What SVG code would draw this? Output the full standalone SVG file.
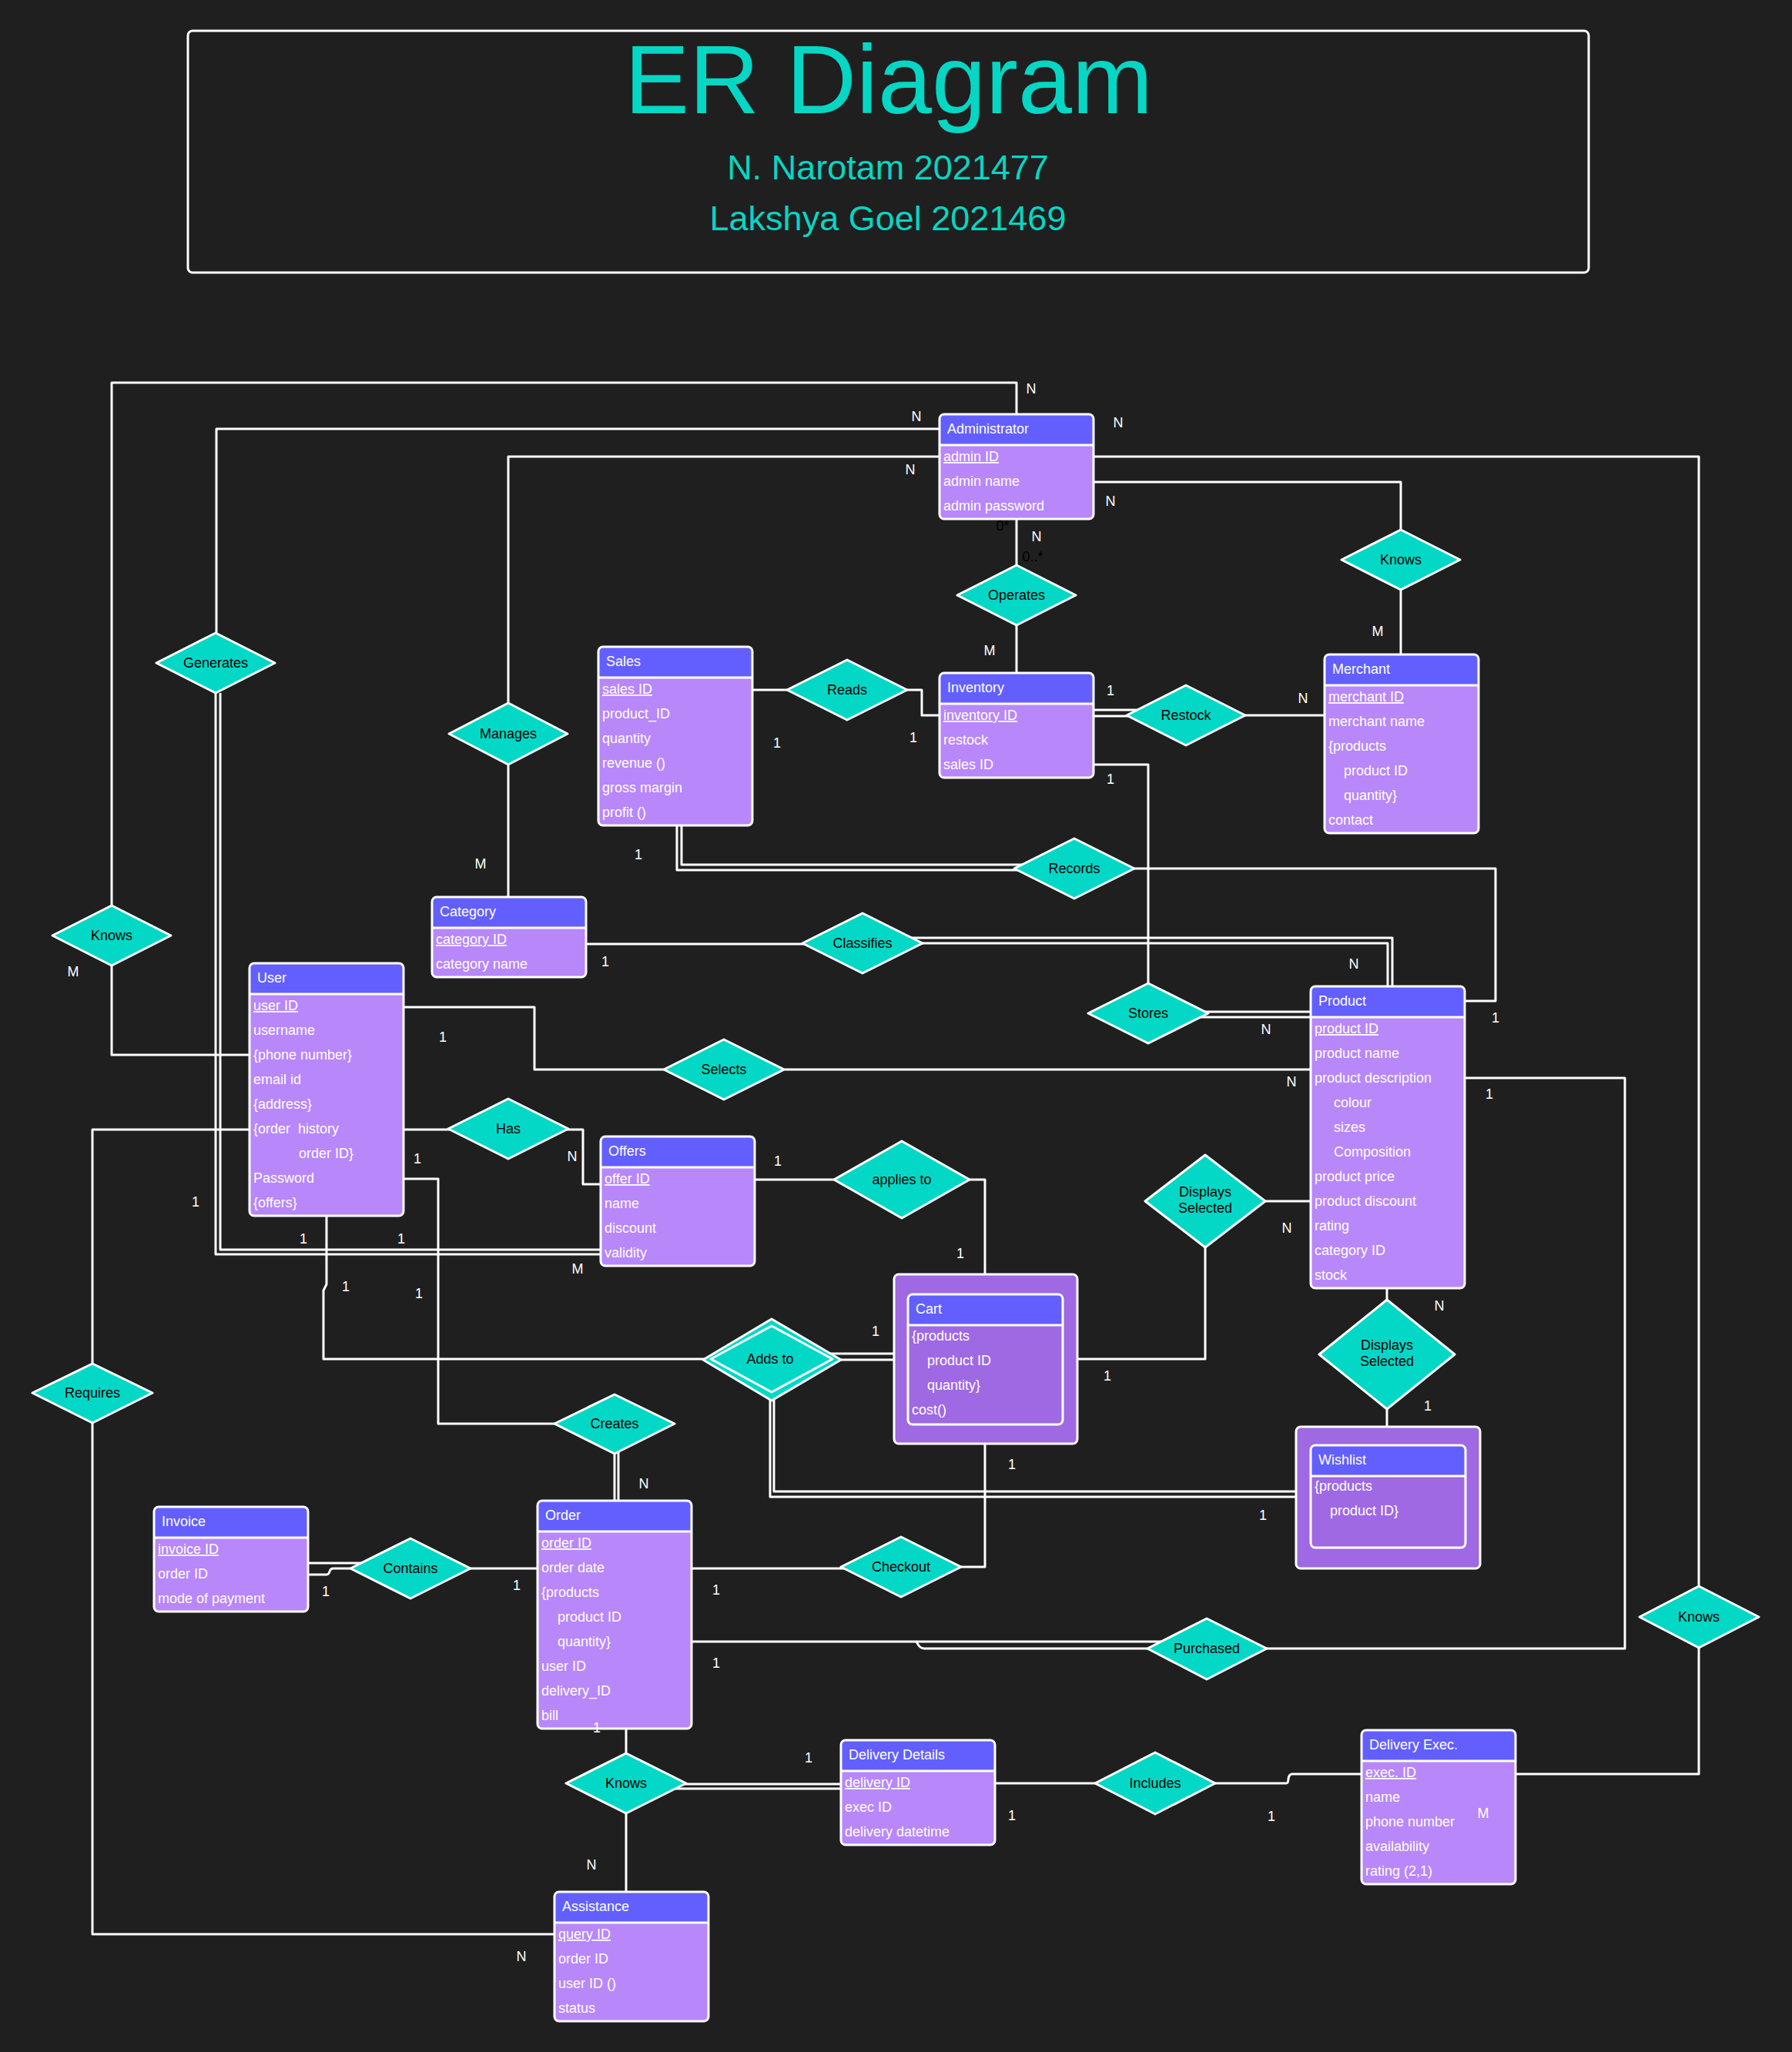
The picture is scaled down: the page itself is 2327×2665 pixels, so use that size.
<svg xmlns="http://www.w3.org/2000/svg" width="2327" height="2665" viewBox="0 0 2327 2665">
<style>
.bg{fill:#1F1F1F}
.body{fill:#B887FA}
.cbody{fill:#9E69E3}
.hdr{fill:#635FFF}
.frame{fill:none;stroke:#fff;stroke-width:3}
.sep{stroke:#fff;stroke-width:3}
.ht,.at{font-family:"Liberation Sans",Arial,sans-serif;font-size:18px;fill:#fff}
.u{text-decoration:underline}
.dia{fill:#03D8C6;stroke:#fff;stroke-width:3;stroke-linejoin:round}
.dt{font-family:"Liberation Sans",Arial,sans-serif;font-size:18px;fill:#000;text-anchor:middle}
.ln{fill:none;stroke:#fff;stroke-width:3;stroke-linejoin:round}
.lb{font-family:"Liberation Sans",Arial,sans-serif;font-size:18px;fill:#fff;text-anchor:middle}
.lbk{font-family:"Liberation Sans",Arial,sans-serif;font-size:18px;fill:#000;text-anchor:middle}
.title{font-family:"Liberation Sans",Arial,sans-serif;fill:#06D6C4;text-anchor:middle}
</style>
<rect class="bg" x="0" y="0" width="2327" height="2665"/>

<g id="title">
<rect x="244" y="40" width="1819" height="314" rx="6" class="frame"/>
<text class="title" x="1154" y="147" font-size="126">ER Diagram</text>
<text class="title" x="1153" y="233" font-size="45">N. Narotam 2021477</text>
<text class="title" x="1153" y="299" font-size="45">Lakshya Goel 2021469</text>
</g>

<g id="connectors">
<path class="ln" d="M1320,538 V497 H145 V1176"/>
<path class="ln" d="M145,1254 V1370 H324"/>
<path class="ln" d="M1220,557 H281 V823"/>
<path class="ln" d="M280,900 V1629 H780"/>
<path class="ln" d="M286,900 V1623 H780"/>
<path class="ln" d="M1220,593 H660 V913"/>
<path class="ln" d="M660,993 V1165"/>
<path class="ln" d="M1420,593 H2206 V2060"/>
<path class="ln" d="M2206,2140 V2304 H1968"/>
<path class="ln" d="M1420,626 H1819 V689"/>
<path class="ln" d="M1819,766 V850"/>
<path class="ln" d="M1320,674 V734"/>
<path class="ln" d="M1320,812 V874"/>
<path class="ln" d="M977,896 H1100"/>
<path class="ln" d="M1100,896 H1197 V929 H1220"/>
<path class="ln" d="M1420,922 H1540"/>
<path class="ln" d="M1420,930 H1540"/>
<path class="ln" d="M1540,929 H1720"/>
<path class="ln" d="M1420,993 H1491 V1316"/>
<path class="ln" d="M1491,1314 H1702"/>
<path class="ln" d="M1491,1321 H1702"/>
<path class="ln" d="M879,1072 V1130 H1395"/>
<path class="ln" d="M885,1072 V1123 H1395"/>
<path class="ln" d="M1395,1128 H1942 V1300 H1902"/>
<path class="ln" d="M760,1226 H1120"/>
<path class="ln" d="M1120,1218 H1808 V1281"/>
<path class="ln" d="M1120,1225 H1802 V1281"/>
<path class="ln" d="M524,1308 H694 V1389 H940"/>
<path class="ln" d="M940,1389 H1702"/>
<path class="ln" d="M524,1467 H660"/>
<path class="ln" d="M660,1467 H757 V1538 H780"/>
<path class="ln" d="M524,1531 H569 V1849 H798"/>
<path class="ln" d="M424,1579 V1668 L420,1676 V1765 H1002"/>
<path class="ln" d="M324,1467 H120 V1809"/>
<path class="ln" d="M120,1809 V2512 H720"/>
<path class="ln" d="M980,1532 H1171"/>
<path class="ln" d="M1171,1532 H1279 V1655"/>
<path class="ln" d="M1002,1758 H1161"/>
<path class="ln" d="M1002,1766 H1161"/>
<path class="ln" d="M1000,1766 V1944 H1683"/>
<path class="ln" d="M1005,1766 V1937 H1683"/>
<path class="ln" d="M1399,1765 H1565 V1560"/>
<path class="ln" d="M1565,1560 H1702"/>
<path class="ln" d="M1801,1673 V1759"/>
<path class="ln" d="M1801,1759 V1853"/>
<path class="ln" d="M1902,1400 H2110 V2141 H1567"/>
<path class="ln" d="M898,2132 H1567"/>
<path class="ln" d="M1190,2132 Q1194,2141 1200,2141 H1567"/>
<path class="ln" d="M898,2037 H1170"/>
<path class="ln" d="M1170,2035 H1279 V1875"/>
<path class="ln" d="M798,1849 V1949"/>
<path class="ln" d="M803,1849 V1949"/>
<path class="ln" d="M533,2037 H698"/>
<path class="ln" d="M400,2030 H533"/>
<path class="ln" d="M400,2045 H424 Q427,2045 428,2041 Q429,2037 433,2037 H533"/>
<path class="ln" d="M813,2245 V2316"/>
<path class="ln" d="M813,2317 H1092"/>
<path class="ln" d="M813,2323 H1092"/>
<path class="ln" d="M813,2316 V2457"/>
<path class="ln" d="M1292,2316 H1500"/>
<path class="ln" d="M1500,2316 H1670 Q1673,2316 1673,2310 Q1674,2304 1678,2304 H1768"/>
</g>

<g id="labels">
<text class="lb" x="1339" y="511">N</text>
<text class="lb" x="1190" y="547">N</text>
<text class="lb" x="1452" y="555">N</text>
<text class="lb" x="1182" y="616">N</text>
<text class="lb" x="1442" y="657">N</text>
<text class="lbk" x="1302" y="689">0*</text>
<text class="lb" x="1346" y="703">N</text>
<text class="lbk" x="1341" y="729">0..*</text>
<text class="lb" x="1285" y="851">M</text>
<text class="lb" x="1789" y="826">M</text>
<text class="lb" x="1442" y="903">1</text>
<text class="lb" x="1692" y="913">N</text>
<text class="lb" x="1442" y="1018">1</text>
<text class="lb" x="1009" y="971">1</text>
<text class="lb" x="1186" y="964">1</text>
<text class="lb" x="829" y="1116">1</text>
<text class="lb" x="624" y="1128">M</text>
<text class="lb" x="786" y="1255">1</text>
<text class="lb" x="1758" y="1258">N</text>
<text class="lb" x="1942" y="1328">1</text>
<text class="lb" x="1644" y="1343">N</text>
<text class="lb" x="95" y="1268">M</text>
<text class="lb" x="575" y="1353">1</text>
<text class="lb" x="1677" y="1411">N</text>
<text class="lb" x="1934" y="1427">1</text>
<text class="lb" x="542" y="1511">1</text>
<text class="lb" x="743" y="1508">N</text>
<text class="lb" x="1010" y="1514">1</text>
<text class="lb" x="254" y="1567">1</text>
<text class="lb" x="1671" y="1601">N</text>
<text class="lb" x="394" y="1615">1</text>
<text class="lb" x="521" y="1615">1</text>
<text class="lb" x="1247" y="1634">1</text>
<text class="lb" x="750" y="1654">M</text>
<text class="lb" x="449" y="1677">1</text>
<text class="lb" x="544" y="1686">1</text>
<text class="lb" x="1869" y="1702">N</text>
<text class="lb" x="1137" y="1735">1</text>
<text class="lb" x="1438" y="1793">1</text>
<text class="lb" x="1854" y="1832">1</text>
<text class="lb" x="1314" y="1908">1</text>
<text class="lb" x="836" y="1933">N</text>
<text class="lb" x="1640" y="1974">1</text>
<text class="lb" x="423" y="2073">1</text>
<text class="lb" x="671" y="2065">1</text>
<text class="lb" x="930" y="2071">1</text>
<text class="lb" x="930" y="2166">1</text>
<text class="lb" x="1050" y="2289">1</text>
<text class="lb" x="768" y="2428">N</text>
<text class="lb" x="677" y="2547">N</text>
<text class="lb" x="1314" y="2364">1</text>
<text class="lb" x="1651" y="2365">1</text>
</g>

<g id="rel-operates"><path class="dia" d="M1243,773 L1320,734 L1397,773 L1320,812 Z"/><text class="dt" x="1320" y="779">Operates</text></g>
<g id="rel-knows-merchant"><path class="dia" d="M1742,727 L1819,688 L1896,727 L1819,766 Z"/><text class="dt" x="1819" y="733">Knows</text></g>
<g id="rel-restock"><path class="dia" d="M1463,929 L1540,890 L1617,929 L1540,968 Z"/><text class="dt" x="1540" y="935">Restock</text></g>
<g id="rel-reads"><path class="dia" d="M1022,896 L1100,857 L1178,896 L1100,935 Z"/><text class="dt" x="1100" y="902">Reads</text></g>
<g id="rel-records"><path class="dia" d="M1317,1128 L1395,1089 L1473,1128 L1395,1167 Z"/><text class="dt" x="1395" y="1134">Records</text></g>
<g id="rel-classifies"><path class="dia" d="M1042,1225 L1120,1186 L1198,1225 L1120,1264 Z"/><text class="dt" x="1120" y="1231">Classifies</text></g>
<g id="rel-selects"><path class="dia" d="M862,1389 L940,1350 L1018,1389 L940,1428 Z"/><text class="dt" x="940" y="1395">Selects</text></g>
<g id="rel-stores"><path class="dia" d="M1413,1316 L1491,1277 L1569,1316 L1491,1355 Z"/><text class="dt" x="1491" y="1322">Stores</text></g>
<g id="rel-generates"><path class="dia" d="M203,861 L280,822 L357,861 L280,900 Z"/><text class="dt" x="280" y="867">Generates</text></g>
<g id="rel-manages"><path class="dia" d="M583,953 L660,913 L737,953 L660,993 Z"/><text class="dt" x="660" y="959">Manages</text></g>
<g id="rel-knows-user"><path class="dia" d="M68,1215 L145,1176 L222,1215 L145,1254 Z"/><text class="dt" x="145" y="1221">Knows</text></g>
<g id="rel-has"><path class="dia" d="M582,1466 L660,1427 L738,1466 L660,1505 Z"/><text class="dt" x="660" y="1472">Has</text></g>
<g id="rel-requires"><path class="dia" d="M42,1809 L120,1771 L198,1809 L120,1848 Z"/><text class="dt" x="120" y="1815">Requires</text></g>
<g id="rel-applies"><path class="dia" d="M1083,1532 L1171,1482 L1259,1532 L1171,1582 Z"/><text class="dt" x="1171" y="1538">applies to</text></g>
<g id="rel-addsto"><path class="dia" d="M913,1766 L1002,1713 L1092,1766 L1002,1819 Z"/><path class="dia" d="M923,1765 L1002,1722 L1081,1765 L1002,1808 Z"/><text class="dt" x="1000" y="1771">Adds to</text></g>
<g id="rel-displays-cart"><path class="dia" d="M1487,1560 L1565,1500 L1643,1560 L1565,1620 Z"/><text class="dt" x="1565" y="1554">Displays</text><text class="dt" x="1565" y="1575">Selected</text></g>
<g id="rel-displays-wishlist"><path class="dia" d="M1713,1759 L1801,1688 L1889,1759 L1801,1830 Z"/><text class="dt" x="1801" y="1753">Displays</text><text class="dt" x="1801" y="1774">Selected</text></g>
<g id="rel-creates"><path class="dia" d="M720,1849 L798,1811 L876,1849 L798,1888 Z"/><text class="dt" x="798" y="1855">Creates</text></g>
<g id="rel-contains"><path class="dia" d="M455,2037 L533,1998 L611,2037 L533,2076 Z"/><text class="dt" x="533" y="2043">Contains</text></g>
<g id="rel-checkout"><path class="dia" d="M1092,2035 L1170,1996 L1248,2035 L1170,2074 Z"/><text class="dt" x="1170" y="2041">Checkout</text></g>
<g id="rel-purchased"><path class="dia" d="M1490,2141 L1567,2102 L1645,2141 L1567,2181 Z"/><text class="dt" x="1567" y="2147">Purchased</text></g>
<g id="rel-knows-exec"><path class="dia" d="M2129,2100 L2206,2060 L2284,2100 L2206,2140 Z"/><text class="dt" x="2206" y="2106">Knows</text></g>
<g id="rel-includes"><path class="dia" d="M1422,2316 L1500,2276 L1578,2316 L1500,2356 Z"/><text class="dt" x="1500" y="2322">Includes</text></g>
<g id="rel-knows-delivery"><path class="dia" d="M735,2316 L813,2277 L891,2316 L813,2355 Z"/><text class="dt" x="813" y="2322">Knows</text></g>

<g id="administrator">
<rect class="body" x="1220" y="538" width="200" height="136" rx="6"/>
<path class="hdr" d="M1220,578 V544 Q1220,538 1226,538 H1414 Q1420,538 1420,544 V578 Z"/>
<rect class="frame" x="1220" y="538" width="200" height="136" rx="6"/><line class="sep" x1="1220" y1="578" x2="1420" y2="578"/>
<text class="ht" x="1230" y="563">Administrator</text>
<text class="at u" x="1225" y="599">admin ID</text><text class="at" x="1225" y="631">admin name</text><text class="at" x="1225" y="663">admin password</text>
</g>

<g id="sales">
<rect class="body" x="777" y="840" width="200" height="232" rx="6"/>
<path class="hdr" d="M777,880 V846 Q777,840 783,840 H971 Q977,840 977,846 V880 Z"/>
<rect class="frame" x="777" y="840" width="200" height="232" rx="6"/><line class="sep" x1="777" y1="880" x2="977" y2="880"/>
<text class="ht" x="787" y="865">Sales</text>
<text class="at u" x="782" y="901">sales ID</text><text class="at" x="782" y="933">product_ID</text><text class="at" x="782" y="965">quantity</text><text class="at" x="782" y="997">revenue ()</text><text class="at" x="782" y="1029">gross margin</text><text class="at" x="782" y="1061">profit ()</text>
</g>

<g id="inventory">
<rect class="body" x="1220" y="874" width="200" height="136" rx="6"/>
<path class="hdr" d="M1220,914 V880 Q1220,874 1226,874 H1414 Q1420,874 1420,880 V914 Z"/>
<rect class="frame" x="1220" y="874" width="200" height="136" rx="6"/><line class="sep" x1="1220" y1="914" x2="1420" y2="914"/>
<text class="ht" x="1230" y="899">Inventory</text>
<text class="at u" x="1225" y="935">inventory ID</text><text class="at" x="1225" y="967">restock</text><text class="at" x="1225" y="999">sales ID</text>
</g>

<g id="merchant">
<rect class="body" x="1720" y="850" width="200" height="232" rx="6"/>
<path class="hdr" d="M1720,890 V856 Q1720,850 1726,850 H1914 Q1920,850 1920,856 V890 Z"/>
<rect class="frame" x="1720" y="850" width="200" height="232" rx="6"/><line class="sep" x1="1720" y1="890" x2="1920" y2="890"/>
<text class="ht" x="1730" y="875">Merchant</text>
<text class="at u" x="1725" y="911">merchant ID</text><text class="at" x="1725" y="943">merchant name</text><text class="at" x="1725" y="975">{products</text><text class="at" x="1745" y="1007">product ID</text><text class="at" x="1745" y="1039">quantity}</text><text class="at" x="1725" y="1071">contact</text>
</g>

<g id="product">
<rect class="body" x="1702" y="1281" width="200" height="392" rx="6"/>
<path class="hdr" d="M1702,1321 V1287 Q1702,1281 1708,1281 H1896 Q1902,1281 1902,1287 V1321 Z"/>
<rect class="frame" x="1702" y="1281" width="200" height="392" rx="6"/><line class="sep" x1="1702" y1="1321" x2="1902" y2="1321"/>
<text class="ht" x="1712" y="1306">Product</text>
<text class="at u" x="1707" y="1342">product ID</text><text class="at" x="1707" y="1374">product name</text><text class="at" x="1707" y="1406">product description</text><text class="at" x="1732" y="1438">colour</text><text class="at" x="1732" y="1470">sizes</text><text class="at" x="1732" y="1502">Composition</text><text class="at" x="1707" y="1534">product price</text><text class="at" x="1707" y="1566">product discount</text><text class="at" x="1707" y="1598">rating</text><text class="at" x="1707" y="1630">category ID</text><text class="at" x="1707" y="1662">stock</text>
</g>

<g id="category">
<rect class="body" x="561" y="1165" width="200" height="104" rx="6"/>
<path class="hdr" d="M561,1205 V1171 Q561,1165 567,1165 H755 Q761,1165 761,1171 V1205 Z"/>
<rect class="frame" x="561" y="1165" width="200" height="104" rx="6"/><line class="sep" x1="561" y1="1205" x2="761" y2="1205"/>
<text class="ht" x="571" y="1190">Category</text>
<text class="at u" x="566" y="1226">category ID</text><text class="at" x="566" y="1258">category name</text>
</g>

<g id="user">
<rect class="body" x="324" y="1251" width="200" height="328" rx="6"/>
<path class="hdr" d="M324,1291 V1257 Q324,1251 330,1251 H518 Q524,1251 524,1257 V1291 Z"/>
<rect class="frame" x="324" y="1251" width="200" height="328" rx="6"/><line class="sep" x1="324" y1="1291" x2="524" y2="1291"/>
<text class="ht" x="334" y="1276">User</text>
<text class="at u" x="329" y="1312">user ID</text><text class="at" x="329" y="1344">username</text><text class="at" x="329" y="1376">{phone number}</text><text class="at" x="329" y="1408">email id</text><text class="at" x="329" y="1440">{address}</text><text class="at" x="329" y="1472" xml:space="preserve">{order  history</text><text class="at" x="388" y="1504">order ID}</text><text class="at" x="329" y="1536">Password</text><text class="at" x="329" y="1568">{offers}</text>
</g>

<g id="offers">
<rect class="body" x="780" y="1476" width="200" height="168" rx="6"/>
<path class="hdr" d="M780,1516 V1482 Q780,1476 786,1476 H974 Q980,1476 980,1482 V1516 Z"/>
<rect class="frame" x="780" y="1476" width="200" height="168" rx="6"/><line class="sep" x1="780" y1="1516" x2="980" y2="1516"/>
<text class="ht" x="790" y="1501">Offers</text>
<text class="at u" x="785" y="1537">offer ID</text><text class="at" x="785" y="1569">name</text><text class="at" x="785" y="1601">discount</text><text class="at" x="785" y="1633">validity</text>
</g>

<g id="cart">
<rect class="cbody" x="1161" y="1655" width="238" height="220" rx="6"/>
<rect class="frame" x="1161" y="1655" width="238" height="220" rx="6"/>
<path class="hdr" d="M1179,1721 V1687 Q1179,1681 1185,1681 H1374 Q1380,1681 1380,1687 V1721 Z"/>
<rect class="frame" x="1179" y="1681" width="201" height="169" rx="6"/><line class="sep" x1="1179" y1="1721" x2="1380" y2="1721"/>
<text class="ht" x="1189" y="1706">Cart</text>
<text class="at" x="1184" y="1741">{products</text><text class="at" x="1204" y="1773">product ID</text><text class="at" x="1204" y="1805">quantity}</text><text class="at" x="1184" y="1837">cost()</text>
</g>

<g id="wishlist">
<rect class="cbody" x="1683" y="1853" width="239" height="184" rx="6"/>
<rect class="frame" x="1683" y="1853" width="239" height="184" rx="6"/>
<path class="hdr" d="M1702,1917 V1883 Q1702,1877 1708,1877 H1897 Q1903,1877 1903,1883 V1917 Z"/>
<rect class="frame" x="1702" y="1877" width="201" height="133" rx="6"/><line class="sep" x1="1702" y1="1917" x2="1903" y2="1917"/>
<text class="ht" x="1712" y="1902">Wishlist</text>
<text class="at" x="1707" y="1936">{products</text><text class="at" x="1727" y="1968">product ID}</text>
</g>

<g id="order">
<rect class="body" x="698" y="1949" width="200" height="296" rx="6"/>
<path class="hdr" d="M698,1989 V1955 Q698,1949 704,1949 H892 Q898,1949 898,1955 V1989 Z"/>
<rect class="frame" x="698" y="1949" width="200" height="296" rx="6"/><line class="sep" x1="698" y1="1989" x2="898" y2="1989"/>
<text class="ht" x="708" y="1974">Order</text>
<text class="at u" x="703" y="2010">order ID</text><text class="at" x="703" y="2042">order date</text><text class="at" x="703" y="2074">{products</text><text class="at" x="724" y="2106">product ID</text><text class="at" x="724" y="2138">quantity}</text><text class="at" x="703" y="2170">user ID</text><text class="at" x="703" y="2202">delivery_ID</text><text class="at" x="703" y="2234">bill</text>
</g>
<text class="lb" x="775" y="2250">1</text>

<g id="invoice">
<rect class="body" x="200" y="1957" width="200" height="136" rx="6"/>
<path class="hdr" d="M200,1997 V1963 Q200,1957 206,1957 H394 Q400,1957 400,1963 V1997 Z"/>
<rect class="frame" x="200" y="1957" width="200" height="136" rx="6"/><line class="sep" x1="200" y1="1997" x2="400" y2="1997"/>
<text class="ht" x="210" y="1982">Invoice</text>
<text class="at u" x="205" y="2018">invoice ID</text><text class="at" x="205" y="2050">order ID</text><text class="at" x="205" y="2082">mode of payment</text>
</g>

<g id="delivery-details">
<rect class="body" x="1092" y="2260" width="200" height="136" rx="6"/>
<path class="hdr" d="M1092,2300 V2266 Q1092,2260 1098,2260 H1286 Q1292,2260 1292,2266 V2300 Z"/>
<rect class="frame" x="1092" y="2260" width="200" height="136" rx="6"/><line class="sep" x1="1092" y1="2300" x2="1292" y2="2300"/>
<text class="ht" x="1102" y="2285">Delivery Details</text>
<text class="at u" x="1097" y="2321">delivery ID</text><text class="at" x="1097" y="2353">exec ID</text><text class="at" x="1097" y="2385">delivery datetime</text>
</g>

<g id="delivery-exec">
<rect class="body" x="1768" y="2247" width="200" height="200" rx="6"/>
<path class="hdr" d="M1768,2287 V2253 Q1768,2247 1774,2247 H1962 Q1968,2247 1968,2253 V2287 Z"/>
<rect class="frame" x="1768" y="2247" width="200" height="200" rx="6"/><line class="sep" x1="1768" y1="2287" x2="1968" y2="2287"/>
<text class="ht" x="1778" y="2272">Delivery Exec.</text>
<text class="at u" x="1773" y="2308">exec. ID</text><text class="at" x="1773" y="2340">name</text><text class="at" x="1773" y="2372">phone number</text><text class="at" x="1773" y="2404">availability</text><text class="at" x="1773" y="2436">rating (2,1)</text>
</g>
<text class="lb" x="1926" y="2361">M</text>

<g id="assistance">
<rect class="body" x="720" y="2457" width="200" height="168" rx="6"/>
<path class="hdr" d="M720,2497 V2463 Q720,2457 726,2457 H914 Q920,2457 920,2463 V2497 Z"/>
<rect class="frame" x="720" y="2457" width="200" height="168" rx="6"/><line class="sep" x1="720" y1="2497" x2="920" y2="2497"/>
<text class="ht" x="730" y="2482">Assistance</text>
<text class="at u" x="725" y="2518">query ID</text><text class="at" x="725" y="2550">order ID</text><text class="at" x="725" y="2582">user ID ()</text><text class="at" x="725" y="2614">status</text>
</g>
</svg>
